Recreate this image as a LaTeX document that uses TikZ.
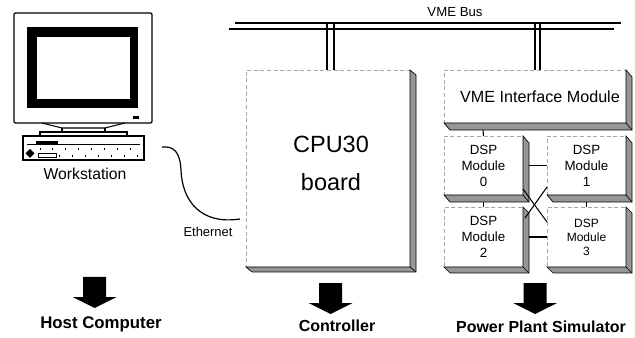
\documentclass[tikz,border=0pt]{standalone}
\usepackage{fontspec}
\setmainfont{Liberation Sans}
\usepackage{xcolor}
\usetikzlibrary{positioning,calc}
\definecolor{bevelgray}{RGB}{150,150,150}
\tikzset{
	modbox/.style 2 args={draw=black!35,densely dashed,line width=0.4pt,fill=white,inner sep=0pt,outer sep=0pt,minimum width=#1*0.75pt,minimum height=#2*0.75pt},
	dsptext/.style={align=center,inner sep=0pt,font=\fontsize{10}{12}\selectfont},
	bigarrow/.style={fill=black},
	buswire/.style={line width=1.5pt},
	biglabel/.style={inner sep=0pt,font=\fontsize{12}{14}\selectfont\bfseries},
	link/.style={line width=0.8pt}
}
\begin{document}
\begin{tikzpicture}[x=0.75pt,y=-0.75pt]
	\useasboundingbox (0,0) rectangle (635,338);
	% monitor
	\draw[line width=0.9pt,rounded corners=1pt] (14,13) rectangle (152,123);
	\fill[black] (27,27) rectangle (138,108);
	\fill[white] (37,37) rectangle (130,99);
	\fill[black] (133,116) rectangle (139,119);
	% stand
	\draw[line width=0.8pt] (42,123) -- (62,128) -- (105,128) -- (125,123);
	\draw[line width=0.8pt] (62,128) -- (62,132);
	\draw[line width=0.8pt] (105,128) -- (105,132);
	\draw[line width=0.8pt] (40,136) -- (40,132) -- (127,132) -- (127,136);
	% pc box
	\node[draw,line width=0.9pt,inner sep=0pt,minimum width=90.75pt,minimum height=18pt] (pcbox) at (83.5,148) {};
	\fill[black] (36,141) rectangle (58,144);
	\draw[line width=0.4pt] (27,144) -- (140,144);
	\fill[black] (30,149) -- (34.5,153.5) -- (30,158) -- (25.5,153.5) -- cycle;
	\draw[line width=0.5pt] (38,153) rectangle (56,157);
	\foreach \x in {40,52,65,78,91,104,117,130}{
		\fill[black] (\x,148) rectangle ++(1.2,2);
	}
	\foreach \x in {59,72,85,98,111,124,137}{
		\fill[black] (\x,155) rectangle ++(1.2,2);
	}
	\node[inner sep=0pt,font=\fontsize{11.8}{14}\selectfont] (wslabel) at (85,174) {Workstation};
	% bus
	\coordinate (busa) at (235,23);
	\coordinate (busb) at (621,23);
	\coordinate (busc) at (229,29);
	\coordinate (busd) at (614,29);
	\draw[buswire] (busa) -- (busb);
	\draw[buswire] (busc) -- (busd);
	\node[inner sep=0pt,font=\fontsize{9.9}{12}\selectfont] (buslabel) at (455,12) {VME Bus};
	% boards
	\node[modbox={164}{197}] (cpu) at (328,168.5) {};
	\node[modbox={182}{53}] (vme) at (535,96.5) {};
	\node[modbox={79}{59}] (dspa) at (483.5,165.5) {};
	\node[modbox={79}{59}] (dspb) at (586.5,165.5) {};
	\node[modbox={79}{60}] (dspc) at (483.5,237) {};
	\node[modbox={79}{60}] (dspd) at (586.5,237) {};
	% bevels
	\foreach \n/\dx/\dy in {cpu/6/5,vme/6/7,dspa/6/7,dspb/6/7,dspc/6/6,dspd/6/6}{
		\filldraw[fill=bevelgray,draw=black,line width=0.5pt] (\n.north east) -- ++(\dx,\dy) -- ($(\n.south east)+(\dx,\dy)$) -- ($(\n.south west)+(\dx,\dy)$) -- (\n.south west) -- (\n.south east) -- cycle;
		\draw[line width=0.5pt] (\n.south east) -- ++(\dx,\dy);
	}
	% stubs
	\foreach \x in {327,334}{
		\draw[buswire] (\x,24) -- (\x,0 |- cpu.north);
	}
	\foreach \x in {535,540}{
		\draw[buswire] (\x,24) -- (\x,0 |- vme.north);
	}
	% text on boards
	\node[align=center,inner sep=0pt,font=\fontsize{17.6}{28.5}\selectfont] (cputext) at (331,163) {CPU30\\board};
	\node[inner sep=0pt,font=\fontsize{12.1}{14}\selectfont] (vmetext) at (540,97) {VME Interface Module};
	\node[dsptext] (dspatext) at (dspa) {DSP\\Module\\0};
	\node[dsptext] (dspbtext) at (dspb) {DSP\\Module\\1};
	\node[dsptext] (dspctext) at (dspc) {DSP\\Module\\2};
	\node[dsptext,font=\fontsize{9}{10.5}\selectfont] (dspdtext) at (dspd) {DSP\\Module\\3};
	% links
	\draw[link] ($(vme.south west)+(39,7)$) -- (dspa.north);
	\draw[link] ($(dspa.south)+(0,7)$) -- (dspc.north);
	\draw[link] ($(dspb.south)+(0,7)$) -- (dspd.north);
	\draw[link] ($(dspa.east)+(6,0)$) -- (dspb.west);
	\draw[link] ($(dspc.east)+(6,0)$) -- (dspd.west);
	\draw[link] ($(dspa.south east)+(0,-6)$) -- ($(dspd.north west)+(0,15)$);
	\draw[link] ($(dspb.south west)+(0,-8)$) -- ($(dspc.north east)+(2,11)$);
	% ethernet
	\coordinate (etha) at (162,147);
	\coordinate (ethb) at (240,219);
	\draw[line width=0.9pt] (etha) .. controls (174,146) and (180,152) .. (181,170) .. controls (182,200) and (200,225) .. (ethb);
	\node[inner sep=0pt,font=\fontsize{9.7}{12}\selectfont] (ethlabel) at (208,232) {Ethernet};
	% arrows
	\foreach \x/\y in {94.5/277,330.5/283,535/283}{
		\fill[bigarrow] (\x-11.5,\y) -- (\x+11.5,\y) -- (\x+11.5,\y+20) -- (\x+22,\y+20) -- (\x,\y+31) -- (\x-22,\y+20) -- (\x-11.5,\y+20) -- cycle;
	}
	\node[biglabel,font=\fontsize{12.6}{14}\selectfont\bfseries] (hostlabel) at (101,324) {Host Computer};
	\node[biglabel] (ctrllabel) at (337,326) {Controller};
	\node[biglabel] (simlabel) at (541,327) {Power Plant Simulator};
\end{tikzpicture}
\end{document}
